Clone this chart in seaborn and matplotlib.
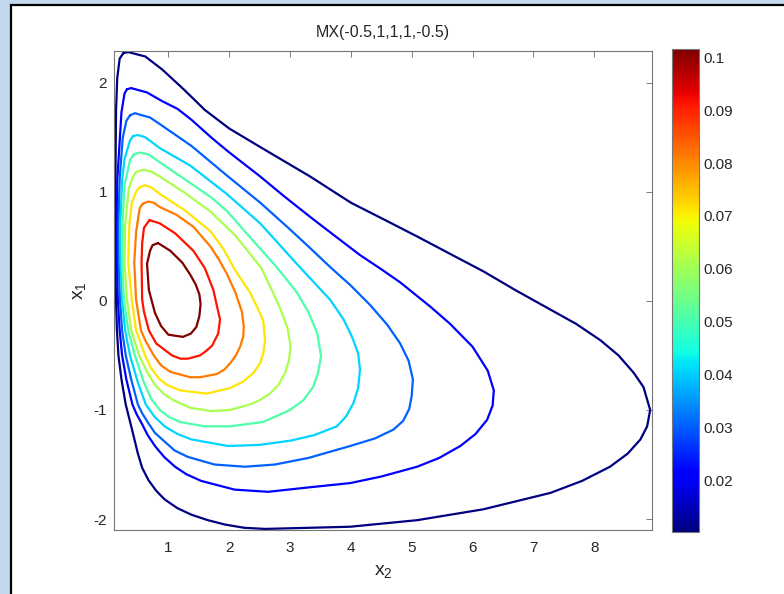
import matplotlib
matplotlib.use("Agg")
import matplotlib.pyplot as plt
from matplotlib.patches import Rectangle
from matplotlib.colors import Normalize
from matplotlib.cm import ScalarMappable
import pandas as pd
import seaborn as sns

# contour levels (outer -> inner)
levels = [0.0102, 0.0203, 0.0305, 0.0406, 0.0508, 0.0610, 0.0711, 0.0813, 0.0914, 0.1016]

# contour outlines, (x2, x1) clockwise from the top
c1_x2 = [0.26, 0.34, 0.62, 0.90, 1.25, 1.60, 2.00, 2.51, 3.33, 4.00, 4.60, 5.09, 5.60, 6.18, 6.70,
         7.28, 7.70, 8.10, 8.40, 8.65, 8.81, 8.92, 8.87, 8.76, 8.55, 8.26, 7.80, 7.28, 6.18, 5.09,
         3.99, 3.30, 2.59, 2.25, 1.93, 1.65, 1.38, 1.15, 0.94, 0.80, 0.67, 0.57, 0.50, 0.39, 0.30,
         0.23, 0.18, 0.155, 0.14, 0.13, 0.13, 0.14, 0.16, 0.20]
c1_x1 = [2.27, 2.28, 2.24, 2.12, 1.94, 1.75, 1.58, 1.41, 1.14, 0.90, 0.73, 0.59, 0.44, 0.27, 0.10,
         -0.08, -0.21, -0.36, -0.50, -0.66, -0.79, -1.00, -1.15, -1.27, -1.40, -1.52, -1.65, -1.76, -1.91, -2.01,
         -2.07, -2.08, -2.09, -2.08, -2.05, -2.01, -1.96, -1.90, -1.82, -1.74, -1.64, -1.53, -1.40, -1.15, -0.95,
         -0.72, -0.50, -0.27, 0.01, 0.35, 1.10, 1.73, 2.04, 2.22]

c2_x2 = [0.32, 0.39, 0.65, 0.90, 1.15, 1.38, 1.70, 1.98, 2.51, 2.90, 3.33, 3.75, 4.15, 4.50, 4.81,
         5.30, 5.63, 6.00, 6.25, 6.35, 6.33, 6.24, 6.05, 5.80, 5.45, 5.09, 4.50, 3.99, 3.30, 2.64,
         2.09, 1.54, 1.30, 1.11, 0.93, 0.78, 0.66, 0.56, 0.48, 0.41, 0.31, 0.24, 0.20, 0.17, 0.155,
         0.155, 0.16, 0.23, 0.28]
c2_x1 = [1.94, 1.95, 1.91, 1.83, 1.76, 1.66, 1.50, 1.37, 1.14, 0.96, 0.77, 0.59, 0.42, 0.29, 0.17,
         -0.05, -0.21, -0.42, -0.64, -0.82, -0.96, -1.09, -1.22, -1.33, -1.44, -1.52, -1.61, -1.67, -1.71, -1.75,
         -1.73, -1.65, -1.59, -1.52, -1.43, -1.33, -1.23, -1.12, -1.04, -0.95, -0.72, -0.50, -0.27, 0.01, 0.35,
         0.70, 1.10, 1.73, 1.90]

c3_x2 = [0.37, 0.45, 0.70, 0.86, 1.38, 1.96, 2.51, 2.95, 3.30, 3.66, 4.00, 4.32, 4.60, 4.81, 4.95,
         5.02, 5.00, 4.96, 4.86, 4.70, 4.40, 3.99, 3.30, 2.75, 2.26, 1.76, 1.32, 1.10, 0.94, 0.78,
         0.67, 0.57, 0.50, 0.39, 0.30, 0.24, 0.205, 0.185, 0.18, 0.20, 0.25, 0.31]
c3_x1 = [1.70, 1.72, 1.68, 1.62, 1.42, 1.15, 0.90, 0.68, 0.50, 0.31, 0.14, -0.04, -0.22, -0.39, -0.55,
         -0.72, -0.87, -0.99, -1.10, -1.18, -1.26, -1.33, -1.44, -1.50, -1.52, -1.50, -1.43, -1.37, -1.29, -1.21,
         -1.12, -1.03, -0.95, -0.72, -0.50, -0.27, 0.01, 0.35, 0.70, 1.12, 1.49, 1.65]

c4_x2 = [0.42, 0.50, 0.62, 0.86, 1.36, 1.96, 2.51, 3.11, 3.66, 3.88, 4.02, 4.12, 4.15, 4.12, 4.04,
         3.92, 3.77, 3.40, 3.02, 2.50, 1.98, 1.38, 1.15, 0.94, 0.77, 0.63, 0.50, 0.37, 0.29, 0.24,
         0.215, 0.21, 0.24, 0.28, 0.37]
c4_x1 = [1.51, 1.52, 1.50, 1.40, 1.24, 0.98, 0.71, 0.34, 0.01, -0.17, -0.33, -0.48, -0.63, -0.80, -0.94,
         -1.06, -1.15, -1.23, -1.28, -1.32, -1.33, -1.27, -1.22, -1.15, -1.06, -0.95, -0.75, -0.50, -0.27, 0.01,
         0.35, 0.70, 1.10, 1.30, 1.47]

c5_x2 = [0.43, 0.53, 0.68, 0.86, 1.36, 1.70, 1.97, 2.30, 2.78, 3.11, 3.30, 3.45, 3.51, 3.46, 3.38,
         3.22, 3.00, 2.56, 2.01, 1.60, 1.19, 1.00, 0.86, 0.72, 0.60, 0.45, 0.34, 0.27, 0.24, 0.245,
         0.28, 0.37]
c5_x1 = [1.34, 1.36, 1.34, 1.27, 1.08, 0.95, 0.82, 0.61, 0.31, 0.08, -0.10, -0.30, -0.51, -0.66, -0.79,
         -0.91, -1.00, -1.11, -1.15, -1.15, -1.11, -1.06, -1.00, -0.90, -0.75, -0.50, -0.27, 0.01, 0.35, 0.70,
         1.06, 1.29]

c6_x2 = [0.47, 0.58, 0.70, 0.86, 1.27, 1.69, 2.10, 2.53, 2.70, 2.84, 2.96, 3.01, 2.98, 2.92, 2.81,
         2.67, 2.50, 2.34, 2.01, 1.70, 1.36, 1.08, 0.92, 0.78, 0.65, 0.52, 0.39, 0.32, 0.28, 0.29,
         0.35, 0.42]
c6_x1 = [1.18, 1.20, 1.19, 1.14, 0.99, 0.82, 0.60, 0.30, 0.10, -0.07, -0.25, -0.42, -0.55, -0.66, -0.77,
         -0.85, -0.91, -0.95, -1.00, -1.01, -0.98, -0.91, -0.85, -0.77, -0.65, -0.50, -0.27, 0.01, 0.35, 0.70,
         1.03, 1.14]

c7_x2 = [0.53, 0.61, 0.72, 0.86, 1.27, 1.69, 1.90, 2.10, 2.34, 2.48, 2.56, 2.59, 2.56, 2.51, 2.40,
         2.23, 2.01, 1.63, 1.19, 0.98, 0.86, 0.72, 0.62, 0.47, 0.40, 0.34, 0.36, 0.40, 0.47]
c7_x1 = [1.04, 1.06, 1.04, 0.98, 0.83, 0.64, 0.48, 0.28, 0.08, -0.08, -0.18, -0.36, -0.48, -0.57, -0.66,
         -0.74, -0.80, -0.85, -0.82, -0.77, -0.72, -0.62, -0.50, -0.27, 0.01, 0.35, 0.70, 0.90, 1.00]

c8_x2 = [0.58, 0.67, 0.76, 0.86, 1.13, 1.41, 1.69, 1.83, 1.96, 2.10, 2.21, 2.24, 2.23, 2.18, 2.11,
         2.02, 1.92, 1.80, 1.52, 1.36, 1.03, 0.88, 0.76, 0.62, 0.55, 0.47, 0.44, 0.47, 0.53]
c8_x1 = [0.89, 0.91, 0.90, 0.86, 0.79, 0.68, 0.50, 0.38, 0.25, 0.08, -0.10, -0.24, -0.33, -0.42, -0.50,
         -0.57, -0.63, -0.67, -0.70, -0.70, -0.65, -0.59, -0.50, -0.36, -0.27, 0.01, 0.35, 0.63, 0.85]

c9_x2 = [0.69, 0.86, 1.11, 1.41, 1.60, 1.74, 1.80, 1.85, 1.82, 1.72, 1.62, 1.52, 1.32, 1.20, 1.06,
         0.80, 0.68, 0.60, 0.57, 0.56, 0.57, 0.60]
c9_x1 = [0.74, 0.71, 0.62, 0.46, 0.30, 0.10, -0.05, -0.17, -0.30, -0.41, -0.46, -0.50, -0.53, -0.53, -0.50,
         -0.39, -0.27, -0.10, 0.01, 0.35, 0.53, 0.67]

c10_x2 = [0.83, 1.03, 1.23, 1.36, 1.45, 1.51, 1.53, 1.51, 1.46, 1.37, 1.24, 1.00, 0.88, 0.78, 0.68,
          0.65, 0.70, 0.74]
c10_x1 = [0.53, 0.46, 0.35, 0.24, 0.15, 0.06, -0.03, -0.14, -0.24, -0.30, -0.33, -0.31, -0.23, -0.11, 0.10,
          0.34, 0.46, 0.51]

cbar_ticks = [0.02, 0.03, 0.04, 0.05, 0.06, 0.07, 0.08, 0.09, 0.1]
cbar_labels = ["0.02", "0.03", "0.04", "0.05", "0.06", "0.07", "0.08", "0.09", "0.1"]
x_ticks = [1, 2, 3, 4, 5, 6, 7, 8]
y_ticks = [-2, -1, 0, 1, 2]


def build_frame():
    outlines = [(c1_x2, c1_x1), (c2_x2, c2_x1), (c3_x2, c3_x1), (c4_x2, c4_x1), (c5_x2, c5_x1),
                (c6_x2, c6_x1), (c7_x2, c7_x1), (c8_x2, c8_x1), (c9_x2, c9_x1), (c10_x2, c10_x1)]
    parts = []
    for i, (xs, ys) in enumerate(outlines):
        # close each loop by repeating its first point
        xs = list(xs) + [xs[0]]
        ys = list(ys) + [ys[0]]
        parts.append(pd.DataFrame({"x2": xs, "x1": ys, "level": levels[i], "contour": i}))
    return pd.concat(parts, ignore_index=True)


def main():
    sns.set_theme(style="white")
    plt.rcParams["font.family"] = ["Liberation Sans", "DejaVu Sans"]
    plt.rcParams["mathtext.fontset"] = "custom"
    plt.rcParams["mathtext.rm"] = "Liberation Sans"
    plt.rcParams["mathtext.it"] = "Liberation Sans"
    plt.rcParams["axes.unicode_minus"] = False

    df = build_frame()
    jet = matplotlib.colormaps["jet"]
    norm = Normalize(vmin=levels[0], vmax=levels[-1])

    fig = plt.figure(figsize=(7.84, 5.94), dpi=100)
    fig.patch.set_facecolor("#c3d8ee")
    fig.patches.append(Rectangle((11 / 784, -0.05), 1.2, 1.05 - 5 / 594, transform=fig.transFigure,
                                 facecolor="white", edgecolor="black", linewidth=1.6, zorder=-1))

    ax = fig.add_axes([114 / 784, 1 - 530 / 594, 538 / 784, 479 / 594])
    sns.lineplot(data=df, x="x2", y="x1", hue="level", units="contour", estimator=None, sort=False,
                 palette=jet, hue_norm=norm, legend=False, linewidth=1.6,
                 solid_joinstyle="round", solid_capstyle="round", ax=ax)

    ax.set_xlim(0.107, 8.95)
    ax.set_ylim(-2.10, 2.29)
    ax.set_xticks(x_ticks)
    ax.set_yticks(y_ticks)
    ax.set_xlabel("x$_2$", fontsize=14, labelpad=6)
    ax.set_ylabel("x$_1$", fontsize=14, labelpad=4)
    ax.set_title("MX(-0.5,1,1,1,-0.5)", fontsize=11.5, pad=10)
    ax.tick_params(direction="in", top=True, right=True, length=4, width=0.6, color="#666666",
                   labelsize=11)
    ax.tick_params(axis="x", pad=8)
    ax.tick_params(axis="y", pad=5)
    for s in ax.spines.values():
        s.set_color("#777777")
        s.set_linewidth(0.8)

    cax = fig.add_axes([672 / 784, 1 - 532 / 594, 27 / 784, 483 / 594])
    cb = fig.colorbar(ScalarMappable(norm=norm, cmap=jet), cax=cax)
    cb.set_ticks(cbar_ticks)
    cb.set_ticklabels(cbar_labels)
    cax.tick_params(direction="in", left=True, right=True, length=4, width=0.6, color="#555555",
                    labelsize=11, pad=3)
    cb.outline.set_edgecolor("#777777")
    cb.outline.set_linewidth(0.8)

    fig.savefig("out.png", dpi=100, facecolor=fig.get_facecolor())
    plt.close(fig)


if __name__ == "__main__":
    main()
